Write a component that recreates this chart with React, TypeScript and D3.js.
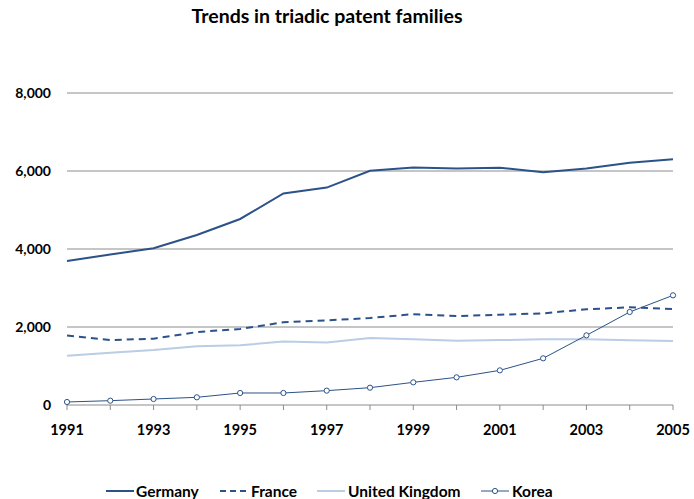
import React from "react";
import * as d3 from "d3";

const years = [1991,1992,1993,1994,1995,1996,1997,1998,1999,2000,2001,2002,2003,2004,2005];
const germany = [3690,3860,4020,4360,4770,5425,5575,6005,6090,6065,6085,5965,6065,6210,6300];
const france = [1785,1665,1700,1870,1950,2120,2170,2230,2330,2280,2315,2350,2455,2505,2460];
const uk = [1265,1340,1410,1505,1530,1630,1605,1720,1685,1650,1665,1685,1685,1660,1640];
const korea = [77,111,154,197,308,308,368,444,581,709,888,1197,1786,2385,2812];
const yTicks = [0,2000,4000,6000,8000];
const xLabelYears = [1991,1993,1995,1997,1999,2001,2003,2005];

const W = 694, H = 499;
const font = "Lato, 'Open Sans', sans-serif";

export default function App() {
  const x = d3.scaleLinear().domain([1991, 2005]).range([67, 673]);
  const y = d3.scaleLinear().domain([0, 8000]).range([405, 93]);
  const line = d3.line<number>().x((_, i) => x(years[i])).y((d) => y(d));
  const dark = "#2b5289";
  const light = "#b9cde5";
  const ly = 491;
  return (
    <svg width={W} height={H} style={{ position: "absolute", left: 0, top: 0 }}>
      <text x={327} y={23} textAnchor="middle" fontFamily={font} fontWeight="bold" fontSize={19.5} fill="#000">
        Trends in triadic patent families
      </text>
      {yTicks.filter((t) => t > 0).map((t) => (
        <line key={t} x1={x(1991)} x2={x(2005)} y1={y(t)} y2={y(t)} stroke="#8c8c8c" strokeWidth={1} />
      ))}
      <line x1={x(1991)} x2={x(2005)} y1={y(0)} y2={y(0)} stroke="#8c8c8c" strokeWidth={1} />
      {years.map((yr) => (
        <line key={yr} x1={x(yr)} x2={x(yr)} y1={y(0)} y2={y(0) + 5} stroke="#8c8c8c" strokeWidth={1} />
      ))}
      {yTicks.map((t) => (
        <text key={t} x={51} y={y(t) + 5} textAnchor="end" fontFamily={font} fontWeight="bold" fontSize={14} fill="#000">
          {d3.format(",")(t)}
        </text>
      ))}
      {xLabelYears.map((yr) => (
        <text key={yr} x={x(yr)} y={435} textAnchor="middle" fontFamily={font} fontWeight="bold" fontSize={14.5} fill="#000">
          {yr}
        </text>
      ))}
      <path d={line(uk) || ""} fill="none" stroke={light} strokeWidth={2} />
      <path d={line(france) || ""} fill="none" stroke={dark} strokeWidth={2} strokeDasharray="7,5" />
      <path d={line(germany) || ""} fill="none" stroke={dark} strokeWidth={2} />
      <path d={line(korea) || ""} fill="none" stroke={dark} strokeWidth={1} />
      {korea.map((v, i) => (
        <circle key={i} cx={x(years[i])} cy={y(v)} r={2.6} fill="#fff" stroke={dark} strokeWidth={1} />
      ))}
      <g fontFamily={font} fontWeight="bold" fontSize={15.5} fill="#000">
        <line x1={106} x2={134} y1={ly} y2={ly} stroke={dark} strokeWidth={2} />
        <text x={136} y={ly + 5.5}>Germany</text>
        <line x1={220} x2={248} y1={ly} y2={ly} stroke={dark} strokeWidth={2} strokeDasharray="6,4" />
        <text x={251} y={ly + 5.5}>France</text>
        <line x1={317} x2={345} y1={ly} y2={ly} stroke={light} strokeWidth={2} />
        <text x={348} y={ly + 5.5}>United Kingdom</text>
        <line x1={481} x2={509} y1={ly} y2={ly} stroke={dark} strokeWidth={1} />
        <circle cx={495} cy={ly} r={2.6} fill="#fff" stroke={dark} strokeWidth={1} />
        <text x={512} y={ly + 5.5}>Korea</text>
      </g>
    </svg>
  );
}
